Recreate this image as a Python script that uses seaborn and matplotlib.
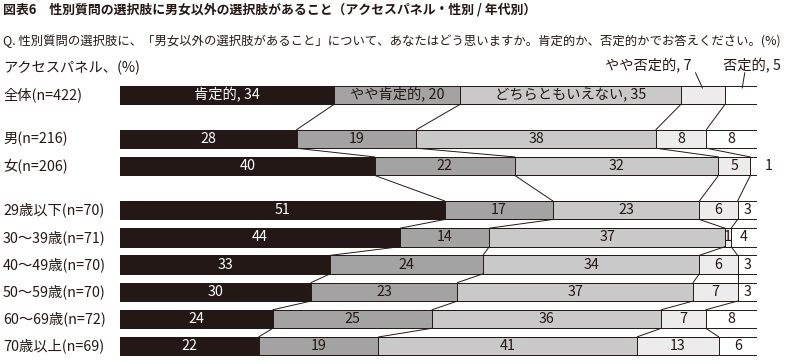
import numpy as np
import pandas as pd
import matplotlib
matplotlib.use("Agg")
import matplotlib.pyplot as plt
import matplotlib.transforms as mtransforms
import seaborn as sns

# data
groups = ["全体(n=422)", "男(n=216)", "女(n=206)", "29歳以下(n=70)", "30～39歳(n=71)",
          "40～49歳(n=70)", "50～59歳(n=70)", "60～69歳(n=72)", "70歳以上(n=69)"]
answers = ["肯定的", "やや肯定的", "どちらともいえない", "やや否定的", "否定的"]
positive = [34, 28, 40, 51, 44, 33, 30, 24, 22]
somewhat_positive = [20, 19, 22, 17, 14, 24, 23, 25, 19]
neutral = [35, 38, 32, 23, 37, 34, 37, 36, 41]
somewhat_negative = [7, 8, 5, 6, 1, 6, 7, 7, 13]
negative = [5, 8, 1, 3, 4, 3, 3, 8, 6]

title = "図表6　性別質問の選択肢に男女以外の選択肢があること（アクセスパネル・性別 / 年代別）"
question = "Q. 性別質問の選択肢に、「男女以外の選択肢があること」について、あなたはどう思いますか。肯定的か、否定的かでお答えください。(%)"
panel_note = "アクセスパネル、(%)"

colors = ["#231815", "#a3a3a3", "#c9c9c9", "#ececec", "#ffffff"]
text_colors = ["white", "#231815", "#231815", "#231815", "#231815"]

sns.set_theme(style="white")
plt.rcParams["font.family"] = ["Noto Sans CJK JP", "DejaVu Sans"]

vals = np.array([positive, somewhat_positive, neutral, somewhat_negative, negative], dtype=float).T
shares = vals / vals.sum(axis=1, keepdims=True) * 100
cum = np.cumsum(shares, axis=1)

# row positions: extra space after 全体 and after 女
gap = 0.62
ypos = np.array([i + gap * ((i >= 1) + (i >= 3)) for i in range(len(groups))])
h = 0.68

fig = plt.figure(figsize=(7.86, 3.64), dpi=100)
ax = fig.add_axes([120 / 786, 1 - 356 / 364, 636.7 / 786, 277.4 / 364])

for k in range(4, -1, -1):
    df = pd.DataFrame({"x": cum[:, k], "y": ypos})
    sns.barplot(data=df, x="x", y="y", orient="h", native_scale=True, color=colors[k],
                saturation=1, edgecolor="#231815", linewidth=0.7, width=h, ax=ax)

# connector lines between consecutive bars
for i in range(len(groups) - 1):
    for k in range(5):
        ax.plot([cum[i, k], cum[i + 1, k]], [ypos[i] + h / 2, ypos[i + 1] - h / 2],
                color="#231815", lw=0.7, zorder=1)

# value labels
fs = 10.3
for i in range(len(groups)):
    for k in range(5):
        mid = cum[i, k] - shares[i, k] / 2
        v = int(vals[i, k])
        if i == 0:
            if k < 3:
                ax.text(mid, ypos[i], f"{answers[k]}, {v}", ha="center", va="center",
                        color=text_colors[k], fontsize=fs)
            continue
        if i == 2 and k == 4:
            ax.text(101.2, ypos[i], str(v), ha="left", va="center", color="#231815",
                    fontsize=fs, clip_on=False)
            continue
        ax.text(mid, ypos[i], str(v), ha="center", va="center", color=text_colors[k], fontsize=fs)

# the two small answers of 全体 sit above the bar with leader lines
y0 = ypos[0]
for k, tx in [(3, 83.0), (4, 99.3)]:
    mid = cum[0, k] - shares[0, k] / 2
    ax.text(tx, y0 - 1.07, f"{answers[k]}, {int(vals[0, k])}", ha="center", va="center",
            color="#231815", fontsize=fs, clip_on=False)
    ax.plot([mid - 1.2 if k == 3 else mid + 0.6, mid - 0.1 if k == 3 else mid + 0.2],
            [y0 - 0.82, y0 - 0.25], color="#231815", lw=0.7, clip_on=False)

# group labels on the left
trans = mtransforms.blended_transform_factory(fig.transFigure, ax.transData)
for i, g in enumerate(groups):
    ax.text(3 / 786, ypos[i], g, transform=trans, ha="left", va="center",
            color="#231815", fontsize=fs, clip_on=False)

fig.text(3 / 786, 1 - 10 / 364, title, ha="left", va="center", fontsize=9.3,
         fontweight="bold", color="#231815")
fig.text(3 / 786, 1 - 41 / 364, question, ha="left", va="center", fontsize=8.9,
         color="#231815")
fig.text(3 / 786, 1 - 68 / 364, panel_note, ha="left", va="center", fontsize=fs,
         color="#231815")

ax.set_xlim(0, 100)
ax.set_ylim(ypos[-1] + 0.36, -0.6)
ax.set_xlabel("")
ax.set_ylabel("")
ax.set_xticks([])
ax.set_yticks([])
for s in ax.spines.values():
    s.set_visible(False)

fig.savefig("out.png", dpi=100)
